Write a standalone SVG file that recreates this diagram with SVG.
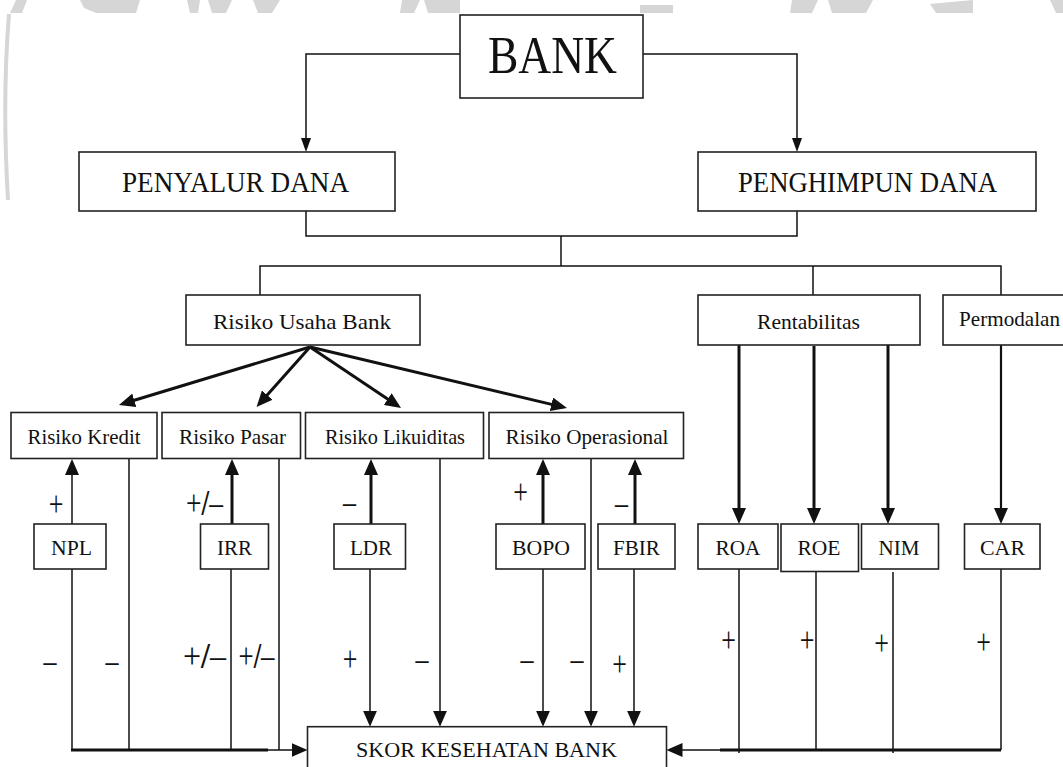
<svg xmlns="http://www.w3.org/2000/svg" width="1063" height="767" viewBox="0 0 1063 767">
<style>
.box{fill:#fff;stroke:#222;stroke-width:1.6}
.t{font-family:"Liberation Serif","Times New Roman",serif;fill:#111;text-anchor:middle}
.l1{fill:none;stroke:#111;stroke-width:1.5}
.l2{fill:none;stroke:#111;stroke-width:2.2}
.l3{fill:none;stroke:#111;stroke-width:3}
.lb{font-family:"Liberation Serif","Times New Roman",serif;font-size:26px;fill:#111;text-anchor:middle}
.sl{font-weight:bold}
.wm{fill:#d6d6d6}
</style>
<defs>
<marker id="ah" viewBox="0 0 16 14" refX="12" refY="7" markerWidth="16" markerHeight="14" markerUnits="userSpaceOnUse" orient="auto">
<path d="M0,0 L16,7 L0,14 z" fill="#111"/>
</marker>
<marker id="ahs" viewBox="0 0 14 10" refX="10" refY="5" markerWidth="14" markerHeight="10" markerUnits="userSpaceOnUse" orient="auto">
<path d="M0,0 L14,5 L0,10 z" fill="#111"/>
</marker>
</defs>
<rect width="1063" height="767" fill="#fff"/>
<g id="watermark">
<polygon class="wm" points="16,0 27,0 22,13 10,13"/>
<polygon class="wm" points="80,0 140,0 136,13 96,13 84,8"/>
<polygon class="wm" points="187,0 200,0 198,13 190,13"/>
<polygon class="wm" points="208,0 232,0 226,13 212,13"/>
<polygon class="wm" points="253,0 280,0 272,13 258,13"/>
<polygon class="wm" points="402,0 420,0 414,13 400,13"/>
<polygon class="wm" points="424,0 460,0 460,13 428,13"/>
<polygon class="wm" points="640,5 673,5 673,13 640,13"/>
<polygon class="wm" points="792,0 818,0 812,13 790,13"/>
<polygon class="wm" points="828,0 873,0 866,13 832,13"/>
<polygon class="wm" points="930,4 973,0 973,13 936,13"/>
<polygon class="wm" points="1050,0 1063,0 1063,13 1056,13"/>
<path d="M9,14 Q2,100 8,200" fill="none" stroke="#d6d6d6" stroke-width="4"/>
</g>
<g id="connectors">
<polyline class="l1" points="460,54 306,54 306,148" marker-end="url(#ahs)"/>
<polyline class="l1" points="643,54 797,54 797,148" marker-end="url(#ahs)"/>
<polyline class="l1" points="306,211 306,236 797,236 797,211"/>
<line class="l1" x1="561" y1="236" x2="561" y2="266"/>
<polyline class="l1" points="260,295 260,266 1001,266 1001,295"/>
<line class="l1" x1="813" y1="266" x2="813" y2="295"/>
<line class="l3" x1="310" y1="347" x2="122.8" y2="403.8" marker-end="url(#ah)"/>
<line class="l3" x1="310" y1="347" x2="259.2" y2="404" marker-end="url(#ah)"/>
<line class="l3" x1="310" y1="347" x2="397.7" y2="405.8" marker-end="url(#ah)"/>
<line class="l3" x1="310" y1="347" x2="563.1" y2="407.1" marker-end="url(#ah)"/>
<line class="l1" x1="72" y1="524" x2="72" y2="463" marker-end="url(#ah)"/>
<line class="l3" x1="232" y1="524" x2="232" y2="463" marker-end="url(#ah)"/>
<line class="l3" x1="371" y1="524" x2="371" y2="463" marker-end="url(#ah)"/>
<line class="l3" x1="543" y1="524" x2="543" y2="463" marker-end="url(#ah)"/>
<line class="l3" x1="635" y1="524" x2="635" y2="463" marker-end="url(#ah)"/>
<line class="l3" x1="739" y1="345" x2="739" y2="520" marker-end="url(#ah)"/>
<line class="l3" x1="814" y1="346" x2="814" y2="520" marker-end="url(#ah)"/>
<line class="l3" x1="888" y1="345" x2="888" y2="520" marker-end="url(#ah)"/>
<line class="l2" x1="1001" y1="345" x2="1001" y2="520" marker-end="url(#ah)"/>
<line class="l1" x1="72" y1="569" x2="72" y2="750"/>
<line class="l1" x1="129" y1="458" x2="129" y2="750"/>
<line class="l1" x1="231" y1="569" x2="231" y2="750"/>
<line class="l1" x1="279" y1="458" x2="279" y2="750"/>
<line class="l1" x1="370" y1="569" x2="370" y2="722.7" marker-end="url(#ah)"/>
<line class="l1" x1="440" y1="458" x2="440" y2="722.7" marker-end="url(#ah)"/>
<line class="l1" x1="543" y1="569" x2="543" y2="722.7" marker-end="url(#ah)"/>
<line class="l1" x1="591" y1="458" x2="591" y2="722.7" marker-end="url(#ah)"/>
<line class="l1" x1="634" y1="569" x2="634" y2="722.7" marker-end="url(#ah)"/>
<line class="l1" x1="739" y1="569" x2="739" y2="753"/>
<line class="l1" x1="816" y1="572" x2="816" y2="750"/>
<line class="l1" x1="893" y1="572" x2="893" y2="753"/>
<line class="l1" x1="1001" y1="569" x2="1001" y2="750"/>
<line class="l1" x1="71" y1="750" x2="303.5" y2="750" marker-end="url(#ah)"/>
<line class="l3" x1="71" y1="750" x2="268" y2="750"/>
<line class="l1" x1="1001" y1="750" x2="670.5" y2="750" marker-end="url(#ah)"/>
<line class="l3" x1="720" y1="750" x2="1001" y2="750"/>
</g>
<g id="bank"><rect class="box" x="460" y="15" width="183" height="83"/><text class="t" x="552.5" y="73" font-size="52" textLength="129" lengthAdjust="spacingAndGlyphs">BANK</text></g>
<g id="penyalur"><rect class="box" x="79" y="152" width="316" height="59"/><text class="t" x="235.5" y="192" font-size="29" textLength="227" lengthAdjust="spacingAndGlyphs">PENYALUR DANA</text></g>
<g id="penghimpun"><rect class="box" x="698" y="152" width="338" height="59"/><text class="t" x="867.5" y="192" font-size="29" textLength="259" lengthAdjust="spacingAndGlyphs">PENGHIMPUN DANA</text></g>
<g id="risiko-usaha"><rect class="box" x="186" y="295" width="234" height="50"/><text class="t" x="302" y="329" font-size="22" textLength="178" lengthAdjust="spacingAndGlyphs">Risiko  Usaha Bank</text></g>
<g id="rentabilitas"><rect class="box" x="698" y="295" width="222" height="50"/><text class="t" x="808.5" y="329" font-size="22" textLength="103" lengthAdjust="spacingAndGlyphs">Rentabilitas</text></g>
<g id="permodalan"><rect class="box" x="943" y="295" width="130" height="50"/><text class="t" x="1009.5" y="326" font-size="22" textLength="101" lengthAdjust="spacingAndGlyphs">Permodalan</text></g>
<g id="risiko-kredit"><rect class="box" x="11" y="412.5" width="146" height="46"/><text class="t" x="84" y="444" font-size="21" textLength="113" lengthAdjust="spacingAndGlyphs">Risiko  Kredit</text></g>
<g id="risiko-pasar"><rect class="box" x="162" y="412.5" width="138.5" height="46"/><text class="t" x="232.5" y="444" font-size="21" textLength="107" lengthAdjust="spacingAndGlyphs">Risiko  Pasar</text></g>
<g id="risiko-likuiditas"><rect class="box" x="305.5" y="412.5" width="178" height="46"/><text class="t" x="395" y="444" font-size="21" textLength="140" lengthAdjust="spacingAndGlyphs">Risiko  Likuiditas</text></g>
<g id="risiko-operasional"><rect class="box" x="489" y="412.5" width="194.5" height="46"/><text class="t" x="587" y="444" font-size="21" textLength="163" lengthAdjust="spacingAndGlyphs">Risiko  Operasional</text></g>
<g id="npl"><rect class="box" x="34" y="524" width="72" height="45"/><text class="t" x="71.5" y="555" font-size="22" textLength="41" lengthAdjust="spacingAndGlyphs">NPL</text></g>
<g id="irr"><rect class="box" x="200.5" y="524" width="68" height="45"/><text class="t" x="234.5" y="555" font-size="22" textLength="35" lengthAdjust="spacingAndGlyphs">IRR</text></g>
<g id="ldr"><rect class="box" x="334" y="524" width="71.5" height="45"/><text class="t" x="371" y="555" font-size="22" textLength="42" lengthAdjust="spacingAndGlyphs">LDR</text></g>
<g id="bopo"><rect class="box" x="496" y="524" width="89" height="45"/><text class="t" x="541" y="555" font-size="22" textLength="58" lengthAdjust="spacingAndGlyphs">BOPO</text></g>
<g id="fbir"><rect class="box" x="598" y="524" width="77" height="45"/><text class="t" x="636.4" y="555" font-size="22" textLength="47" lengthAdjust="spacingAndGlyphs">FBIR</text></g>
<g id="roa"><rect class="box" x="698" y="524" width="80" height="45"/><text class="t" x="738" y="555" font-size="22" textLength="45" lengthAdjust="spacingAndGlyphs">ROA</text></g>
<g id="roe"><rect class="box" x="781" y="524" width="77.5" height="47.5"/><text class="t" x="819" y="555" font-size="22" textLength="43" lengthAdjust="spacingAndGlyphs">ROE</text></g>
<g id="nim"><rect class="box" x="861.5" y="524" width="77" height="45"/><text class="t" x="899" y="555" font-size="22" textLength="41" lengthAdjust="spacingAndGlyphs">NIM</text></g>
<g id="car"><rect class="box" x="964.5" y="524" width="75.5" height="45"/><text class="t" x="1002.5" y="555" font-size="22" textLength="45" lengthAdjust="spacingAndGlyphs">CAR</text></g>
<g id="skor"><rect class="box" x="307.5" y="726.7" width="359" height="60"/><text class="t" x="486.5" y="757" font-size="22" textLength="261" lengthAdjust="spacingAndGlyphs">SKOR KESEHATAN BANK</text></g>
<g id="labels">
<text class="lb" transform="translate(56,507) scale(1,1.35)" y="6.5">+</text>
<text class="lb" transform="translate(204.5,507) scale(1,1.35)" y="6" textLength="37" lengthAdjust="spacingAndGlyphs">+<tspan class="sl">/</tspan>–</text>
<text class="lb" transform="translate(349.5,506) scale(1,1.35)" y="5.7">–</text>
<text class="lb" transform="translate(520.7,495) scale(1,1.35)" y="6.5">+</text>
<text class="lb" transform="translate(621.4,507) scale(1,1.35)" y="5.7">–</text>
<text class="lb" transform="translate(50,665) scale(1,1.35)" y="5.7">–</text>
<text class="lb" transform="translate(112,665) scale(1,1.35)" y="5.7">–</text>
<text class="lb" transform="translate(204.5,660) scale(1,1.35)" y="6" textLength="43" lengthAdjust="spacingAndGlyphs">+<tspan class="sl">/</tspan>–</text>
<text class="lb" transform="translate(256.5,660) scale(1,1.35)" y="6" textLength="36" lengthAdjust="spacingAndGlyphs">+<tspan class="sl">/</tspan>–</text>
<text class="lb" transform="translate(350,662) scale(1,1.35)" y="6.5">+</text>
<text class="lb" transform="translate(422,663) scale(1,1.35)" y="5.7">–</text>
<text class="lb" transform="translate(527,663) scale(1,1.35)" y="5.7">–</text>
<text class="lb" transform="translate(577,663) scale(1,1.35)" y="5.7">–</text>
<text class="lb" transform="translate(619.7,667) scale(1,1.35)" y="6.5">+</text>
<text class="lb" transform="translate(728.6,643) scale(1,1.35)" y="6.5">+</text>
<text class="lb" transform="translate(807,643) scale(1,1.35)" y="6.5">+</text>
<text class="lb" transform="translate(881.6,646) scale(1,1.35)" y="6.5">+</text>
<text class="lb" transform="translate(983.7,645) scale(1,1.35)" y="6.5">+</text>
</g>
</svg>
